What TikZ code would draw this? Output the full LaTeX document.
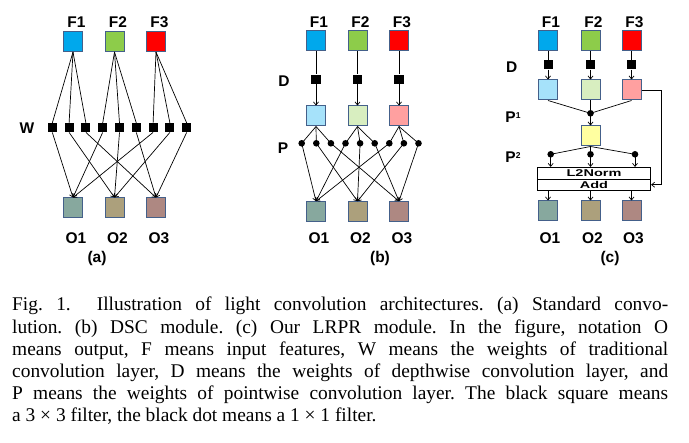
\documentclass[tikz,border=0pt]{standalone}
\usepackage{fontspec}
\usetikzlibrary{arrows.meta}
\newfontfamily\labfont{Liberation Sans}
\newfontfamily\capfont{Liberation Serif}
\definecolor{bordc}{RGB}{68,96,138}
\definecolor{cF1}{RGB}{0,168,236}
\definecolor{cF2}{RGB}{141,204,74}
\definecolor{cF3}{RGB}{255,0,0}
\definecolor{cM1}{RGB}{166,226,250}
\definecolor{cM2}{RGB}{216,238,192}
\definecolor{cM3}{RGB}{255,160,160}
\definecolor{cY}{RGB}{255,255,160}
\definecolor{cO1}{RGB}{135,168,158}
\definecolor{cO2}{RGB}{172,160,124}
\definecolor{cO3}{RGB}{174,136,130}
\tikzset{
  fbox/.style={draw=bordc, line width=1pt, minimum width=19pt, minimum height=20pt, inner sep=0pt},
  wsq/.style={fill=black, minimum size=9pt, inner sep=0pt},
  bdot/.style={circle, fill=black, minimum size=6.6pt, inner sep=0pt},
  lab/.style={font=\labfont\bfseries\fontsize{15.5}{17}\selectfont, inner sep=0pt},
  arr/.style={-{Straight Barb[length=3pt,width=5pt]}, line width=0.7pt},
  ln/.style={line width=0.7pt},
  wbox/.style={draw=black, line width=0.8pt, minimum width=113.4pt, inner sep=0pt, font=\labfont\bfseries\fontsize{14.5}{14}\selectfont},
  capline/.style={anchor=base west, inner sep=0pt, font=\capfont\fontsize{19.4}{22}\selectfont\frenchspacing}
}
\begin{document}
\begin{tikzpicture}[x=1pt,y=-1pt]
\useasboundingbox (0,0) rectangle (689,443);
\fill[white] (0,0) rectangle (689,443);

% ---------------- (a)
\foreach \i/\x in {1/73,2/114.5,3/156} {
  \node[fbox, fill=cF\i] (aF\i) at (\x,41.5) {};
  \node[lab] (aFl\i) at (\x+3.5,22) {F\i};
  \node[fbox, fill=cO\i] (aO\i) at (\x,208) {};
  \node[lab] (aOl\i) at (\x+3,238) {O\i};
}
\foreach \k in {1,...,9} \node[wsq] (aW\k) at ({52.3+16.8*(\k-1)},127.7) {};
\foreach \i in {1,2,3} \foreach \j in {1,2,3} {
  \pgfmathtruncatemacro\k{3*(\i-1)+\j}
  \draw[ln] (aF\i.south) -- (aW\k.north);
  \draw[arr] (aW\k.south) -- (aO\j.north);
}
\node[lab] (aWl) at (27,128) {W};
\node[lab] (acap) at (97,258) {(a)};

% ---------------- (b)
\foreach \i/\x in {1/316,2/357.5,3/399} {
  \node[fbox, fill=cF\i] (bF\i) at (\x,41) {};
  \node[lab] (bFl\i) at (\x+3,22) {F\i};
  \node[wsq, minimum size=9.5pt] (bD\i) at (\x,79.3) {};
  \node[fbox, fill=cM\i] (bM\i) at (\x,116) {};
  \node[fbox, fill=cO\i] (bO\i) at (\x,211.7) {};
  \node[lab] (bOl\i) at (\x+3,238) {O\i};
  \draw[ln] (bF\i.south) -- (bD\i.north);
  \draw[arr] (bD\i.south) -- (bM\i.north);
}
\foreach \k in {1,...,9} \node[bdot] (bP\k) at ({301.7+14.6*(\k-1)},143.3) {};
\foreach \i in {1,2,3} \foreach \j in {1,2,3} {
  \pgfmathtruncatemacro\k{3*(\i-1)+\j}
  \draw[ln] (bM\i.south) -- (bP\k.center);
  \draw[arr] (bP\k.center) -- (bO\j.north);
}
\node[lab] (bDl) at (284,81) {D};
\node[lab] (bPl) at (283,147.7) {P};
\node[lab] (bcap) at (380,258) {(b)};

% ---------------- (c)
\foreach \i/\x in {1/548,2/590.5,3/631.5} {
  \node[fbox, fill=cF\i] (cF\i) at (\x,40.5) {};
  \node[lab] (cFl\i) at (\x+3,22) {F\i};
  \node[wsq] (cD\i) at (\x,65) {};
  \node[fbox, fill=cM\i] (cM\i) at (\x,90) {};
  \node[fbox, fill=cO\i] (cO\i) at (\x,211) {};
  \node[lab] (cOl\i) at (\x+2,237.7) {O\i};
  \draw[ln] (cF\i.south) -- (cD\i.north);
  \draw[arr] (cD\i.south) -- (cM\i.north);
}
\node[bdot] (cP1) at (590.5,113.3) {};
\node[fbox, fill=cY] (cY) at (590.5,136) {};
\foreach \i in {1,2,3} \draw[ln] (cM\i.south) -- (cP1.center);
\draw[arr] (cP1.center) -- (cY.north);
\node[wbox, minimum height=11.7pt] (cL2) at (594,173.15) {\scalebox{1}[0.68]{L2Norm}};
\node[wbox, minimum height=11.5pt] (cAdd) at (594,184.75) {\scalebox{1}[0.68]{Add}};
\foreach \k/\x in {1/550.7,2/590.5,3/635} {
  \node[bdot] (cQ\k) at (\x,154.3) {};
  \draw[ln] (cY.south) -- (cQ\k.center);
  \draw[arr] (cQ\k.center) -- (cQ\k.center |- cL2.north);
}
\foreach \i in {1,2,3} \draw[arr] (cO\i.north |- cAdd.south) -- (cO\i.north);
\coordinate (cR1) at (661.7,90);
\draw[arr] (cM3.east) -- (cR1) |- (cAdd.east);
\node[lab] (cDl) at (511.7,67) {D};
\node[lab] (cP1l) at (513,116.7) {P\raisebox{3.5pt}{\fontsize{8.5}{9}\selectfont 1}};
\node[lab] (cP2l) at (513,156.7) {P\raisebox{3.5pt}{\fontsize{8.5}{9}\selectfont 2}};
\node[lab] (ccap) at (610,258) {(c)};

% ---------------- caption
\node[capline] (l1) at (12,311) {\makebox[656pt][s]{Fig. 1.\hspace{26pt}Illustration of light convolution architectures. (a) Standard convo-}};
\node[capline] (l2) at (12,333.2) {\makebox[656pt][s]{lution. (b) DSC module. (c) Our LRPR module. In the figure, notation O}};
\node[capline] (l3) at (12,355.4) {\makebox[656pt][s]{means output, F means input features, W means the weights of traditional}};
\node[capline] (l4) at (12,377.6) {\makebox[656pt][s]{convolution layer, D means the weights of depthwise convolution layer, and}};
\node[capline] (l5) at (12,399.8) {\makebox[656pt][s]{P means the weights of pointwise convolution layer. The black square means}};
\node[capline] (l6) at (12,422) {a 3 × 3 filter, the black dot means a 1 × 1 filter.};
\end{tikzpicture}
\end{document}
